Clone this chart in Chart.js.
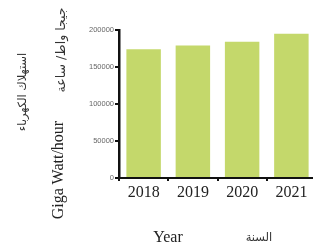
<!DOCTYPE html>
<html>
<head>
<meta charset="utf-8">
<script src="https://cdn.jsdelivr.net/npm/chart.js@4/dist/chart.umd.min.js"></script>
<style>
  html, body { margin: 0; padding: 0; background: #fff; overflow: hidden; }
  #wrap { position: relative; width: 313px; height: 246px; overflow: hidden; }
  #box { position: absolute; left: 0; top: 0; width: 318px; height: 246px; }
  .lbl { position: absolute; white-space: nowrap; color: #222; }
  .rot { transform: translate(-50%, -50%) rotate(-90deg); }
  .ctr { transform: translate(-50%, -50%); }
  .en { font-family: "Liberation Serif", serif; font-size: 16px; }
  .ar { font-family: "DejaVu Sans", sans-serif; font-size: 11.5px; color: #333; }
</style>
</head>
<body>
<div id="wrap">
  <div id="box"><canvas id="canvas"></canvas></div>
  <div class="lbl ar rot" style="left:22px; top:92px;" dir="rtl">استهلاك الكهرباء</div>
  <div class="lbl ar rot" style="left:60px; top:50px; font-size:12.5px;" dir="rtl">جيجا واط/ ساعة</div>
  <div class="lbl en rot" style="left:58px; top:170px;">Giga Watt/hour</div>
  <div class="lbl en ctr" style="left:168px; top:237px;">Year</div>
  <div class="lbl ar ctr" style="left:259px; top:237px;" dir="rtl">السنة</div>
</div>
<script>
var years = ['2018', '2019', '2020', '2021'];
var consumption = [174000, 179000, 184000, 195000];
var yTicks = [0, 50000, 100000, 150000, 200000];

var chart_config = {
  type: 'bar',
  data: {
    labels: years,
    datasets: [{
      data: consumption,
      backgroundColor: '#c4d86b',
      borderWidth: 0,
      categoryPercentage: 1.0,
      barPercentage: 0.7
    }]
  },
  options: {
    responsive: true,
    maintainAspectRatio: false,
    animation: false,
    layout: { padding: { top: 30, right: 2, left: 0, bottom: 0 } },
    plugins: { legend: { display: false }, tooltip: { enabled: false } },
    scales: {
      x: {
        grid: { display: true, drawOnChartArea: false, offset: true, color: '#111', lineWidth: 2, tickLength: 3 },
        border: { display: true, color: '#111', width: 2 },
        ticks: { color: '#222', padding: 2, font: { family: 'Liberation Serif', size: 16 } },
        afterFit: function(scale) { scale.height = 68; }
      },
      y: {
        min: 0,
        max: 200000,
        afterBuildTicks: function(scale) {
          scale.ticks = yTicks.map(function(v) { return { value: v }; });
        },
        grid: { drawOnChartArea: false, color: '#111', lineWidth: 2, tickLength: 4 },
        border: { display: true, color: '#111', width: 2.5 },
        ticks: {
          color: '#666',
          padding: 1,
          font: { family: 'Liberation Sans', size: 7.5 },
          callback: function(value) { return String(value); }
        },
        afterFit: function(scale) { scale.width = 119; }
      }
    }
  }
};

window.onload = function() {
  var ctx = document.getElementById('canvas').getContext('2d');
  window.myBar = new Chart(ctx, chart_config);
};
</script>
</body>
</html>
